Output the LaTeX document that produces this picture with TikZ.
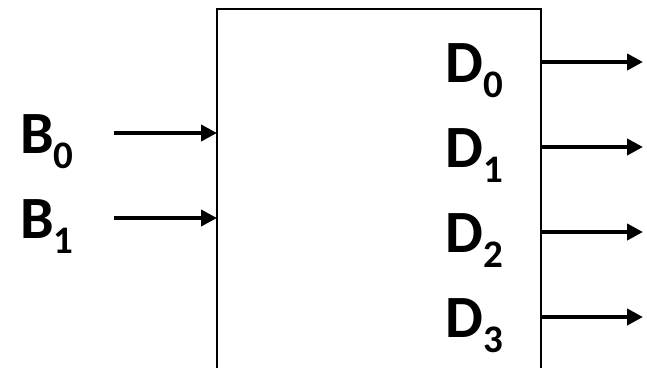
\documentclass[tikz,border=0pt]{standalone}
\usepackage{fontspec}
\setmainfont{Carlito}
\usetikzlibrary{calc, arrows.meta}

% label with a lowered index, set as in the slide
\newcommand{\sig}[2]{\bfseries\fontsize{60}{60}\selectfont #1\raisebox{-15pt}{\fontsize{39}{39}\selectfont #2}}

\begin{document}
\begin{tikzpicture}[x=1pt, y=-1pt,
        decbox/.style={draw, line width=2.2pt, outer sep=0pt, inner sep=0pt},
        sigline/.style={line width=4pt, -{Triangle[length=16pt, width=16pt]}},
        siglabel/.style={inner sep=0pt, anchor=base west}]

        % page size, the box runs out at the bottom
        \clip (0,0) rectangle (647,367);
        \fill[white] (0,0) rectangle (647,367);

        % the decoder block
        \node[decbox, minimum width=324pt, minimum height=420pt, anchor=north west] (dec) at (217,9) {};

        % inputs
        \coordinate (in0) at (114,133);
        \coordinate (in1) at (114,218);
        \draw[sigline] (in0) -- (dec.west |- in0);
        \draw[sigline] (in1) -- (dec.west |- in1);
        \node[siglabel] (B0) at (20,153) {\sig{B}{0}};
        \node[siglabel] (B1) at (20,238) {\sig{B}{1}};

        % outputs
        \foreach \i/\y in {0/62, 1/147, 2/232, 3/317} {
            \coordinate (out\i) at (643,\y);
            \draw[sigline] (dec.east |- out\i) -- (out\i);
            \node[siglabel] (D\i) at (445,\y+20) {\sig{D}{\i}};
        }
\end{tikzpicture}
\end{document}
